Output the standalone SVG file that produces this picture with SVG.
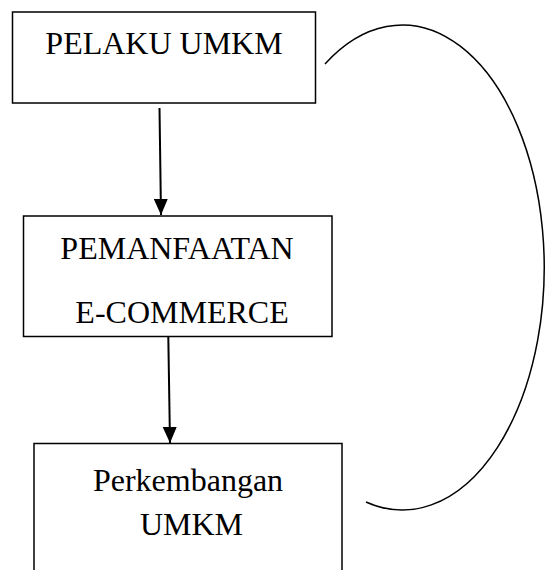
<svg xmlns="http://www.w3.org/2000/svg" width="547" height="570" viewBox="0 0 547 570">
<style>
.box{fill:#fff;stroke:#000;stroke-width:1.5}
.t{font-family:"Liberation Serif","Times New Roman",serif;font-size:32px;fill:#000;text-anchor:middle}
.ln{stroke:#000;stroke-width:2;fill:none}
.arc{stroke:#000;stroke-width:1.5;fill:none}
</style>
<defs>
<marker id="ah" markerWidth="8" markerHeight="8" refX="7.5" refY="4" orient="auto" markerUnits="userSpaceOnUse" viewBox="0 0 8 8">
<path d="M0,0 L8,4 L0,8 z" fill="#000"/>
</marker>
<marker id="ah2" viewBox="0 0 16 14" refX="16" refY="7" markerWidth="16" markerHeight="14" orient="auto" markerUnits="userSpaceOnUse">
<path d="M0,0 L16,7 L0,14 z" fill="#000"/>
</marker>
</defs>
<rect width="547" height="570" fill="#fff"/>
<g id="node-pelaku">
<rect class="box" x="12.5" y="12" width="303" height="91"/>
<text class="t" x="164" y="54">PELAKU UMKM</text>
</g>
<g id="node-pemanfaatan">
<rect class="box" x="23.5" y="216" width="308.5" height="120.5"/>
<text class="t" x="177" y="259">PEMANFAATAN</text>
<text class="t" x="182" y="323">E-COMMERCE</text>
</g>
<g id="node-perkembangan">
<rect class="box" x="34" y="443.5" width="308" height="140"/>
<text class="t" x="188" y="491">Perkembangan</text>
<text class="t" x="191.5" y="535">UMKM</text>
</g>
<g id="connectors">
<line class="ln" x1="159.5" y1="108" x2="161" y2="215" marker-end="url(#ah2)"/>
<line class="ln" x1="168.3" y1="336.5" x2="170" y2="443" marker-end="url(#ah2)"/>
<path class="arc" d="M 325 64 A 142 242.5 0 1 1 366 502"/>
</g>
</svg>
